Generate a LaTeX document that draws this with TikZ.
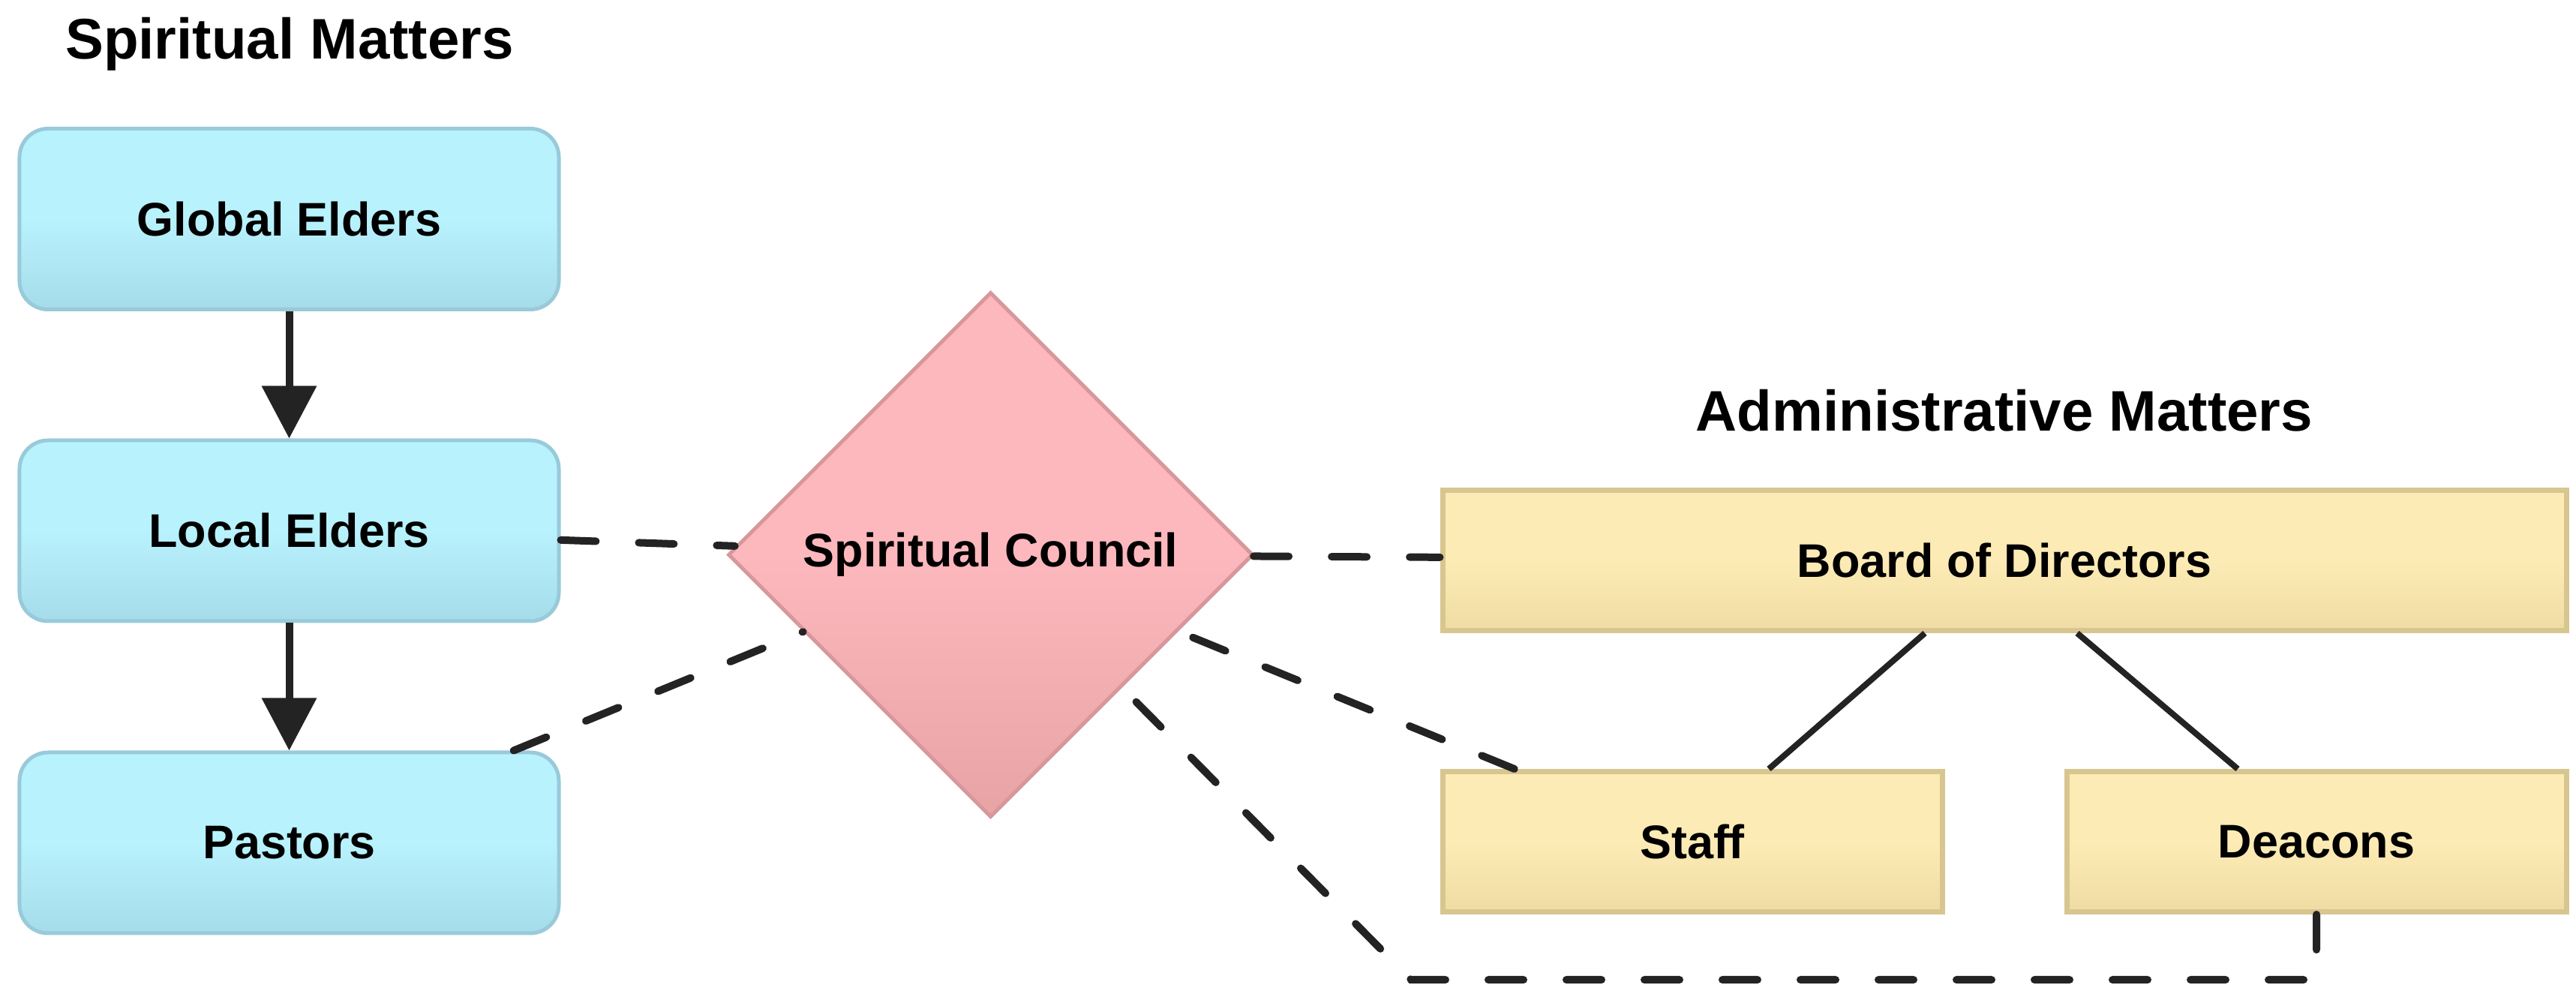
\documentclass[tikz,border=0pt]{standalone}
\usepackage{fontspec}
\setmainfont{Liberation Sans}
\usetikzlibrary{shapes.geometric,arrows.meta}

\definecolor{eldertop}{HTML}{B8F2FD}
\definecolor{elderbot}{HTML}{A6DCEA}
\definecolor{elderline}{HTML}{98CADA}
\definecolor{counciltop}{HTML}{FCB8BD}
\definecolor{councilbot}{HTML}{E8A3A5}
\definecolor{councilline}{HTML}{D8979A}
\definecolor{admintop}{HTML}{FDEBB5}
\definecolor{adminbot}{HTML}{EFDCA4}
\definecolor{adminline}{HTML}{D8C690}
\definecolor{linkgray}{HTML}{232323}

\tikzset{
  boxfont/.style={font=\bfseries\fontsize{17.9}{21}\selectfont},
  heading/.style={font=\bfseries\fontsize{21.7}{26}\selectfont, anchor=base},
  spiritbox/.style={boxfont, draw=elderline, line width=0.05cm, rounded corners=0.38cm,
    top color=eldertop, bottom color=elderbot, middle color=eldertop,
    minimum width=7.19cm, minimum height=2.41cm},
  councilshape/.style={boxfont, diamond, aspect=1, draw=councilline, line width=0.05cm,
    top color=counciltop, bottom color=councilbot, middle color=counciltop,
    minimum size=7cm, inner sep=0pt},
  adminbox/.style={boxfont, draw=adminline, line width=0.07cm,
    top color=admintop, bottom color=adminbot, middle color=admintop, minimum height=1.87cm},
  arrowlink/.style={draw=linkgray, line width=0.1cm, -{Triangle[width=0.71cm,length=0.7cm]}},
  dashlink/.style={draw=linkgray, line width=0.1cm, line cap=round, dash pattern=on 0.47cm off 0.57cm},
  treelink/.style={draw=linkgray, line width=0.08cm}
}

\begin{document}
\begin{tikzpicture}
  \useasboundingbox (0,0) rectangle (34.34,13.13);

  % spiritual side
  \node[heading] (spirit) at (3.86,12.34) {Spiritual Matters};
  \node[spiritbox] (global) at (3.855,10.21) {Global Elders};
  \node[spiritbox] (local) at (3.855,6.055) {Local Elders};
  \node[spiritbox] (pastors) at (3.855,1.895) {Pastors};

  \node[councilshape] (council) at (13.205,5.735) {Spiritual Council};

  % administrative side
  \node[heading] (admin) at (26.72,7.38) {Administrative Matters};
  \node[adminbox, minimum width=14.98cm] (board) at (26.72,5.66) {Board of Directors};
  \node[adminbox, minimum width=6.66cm] (staff) at (22.56,1.91) {Staff};
  \node[adminbox, minimum width=6.66cm] (deacons) at (30.88,1.91) {Deacons};

  \coordinate (bend) at (18.81,0.07);

  \draw[arrowlink] (global) -- (local);
  \draw[arrowlink] (local) -- (pastors);

  \draw[treelink] ([xshift=-1.06cm]board.south) -- ([xshift=1.02cm]staff.north);
  \draw[treelink] ([xshift=0.97cm]board.south) -- ([xshift=-1.05cm]deacons.north);

  \draw[dashlink] (local) -- (council);
  \draw[dashlink] (pastors) -- (council);
  \draw[dashlink] (council) -- (board);
  \draw[dashlink] (staff) -- (council);
  \draw[dashlink] (deacons) -- (bend -| deacons) -- (bend) -- (council);
\end{tikzpicture}
\end{document}
